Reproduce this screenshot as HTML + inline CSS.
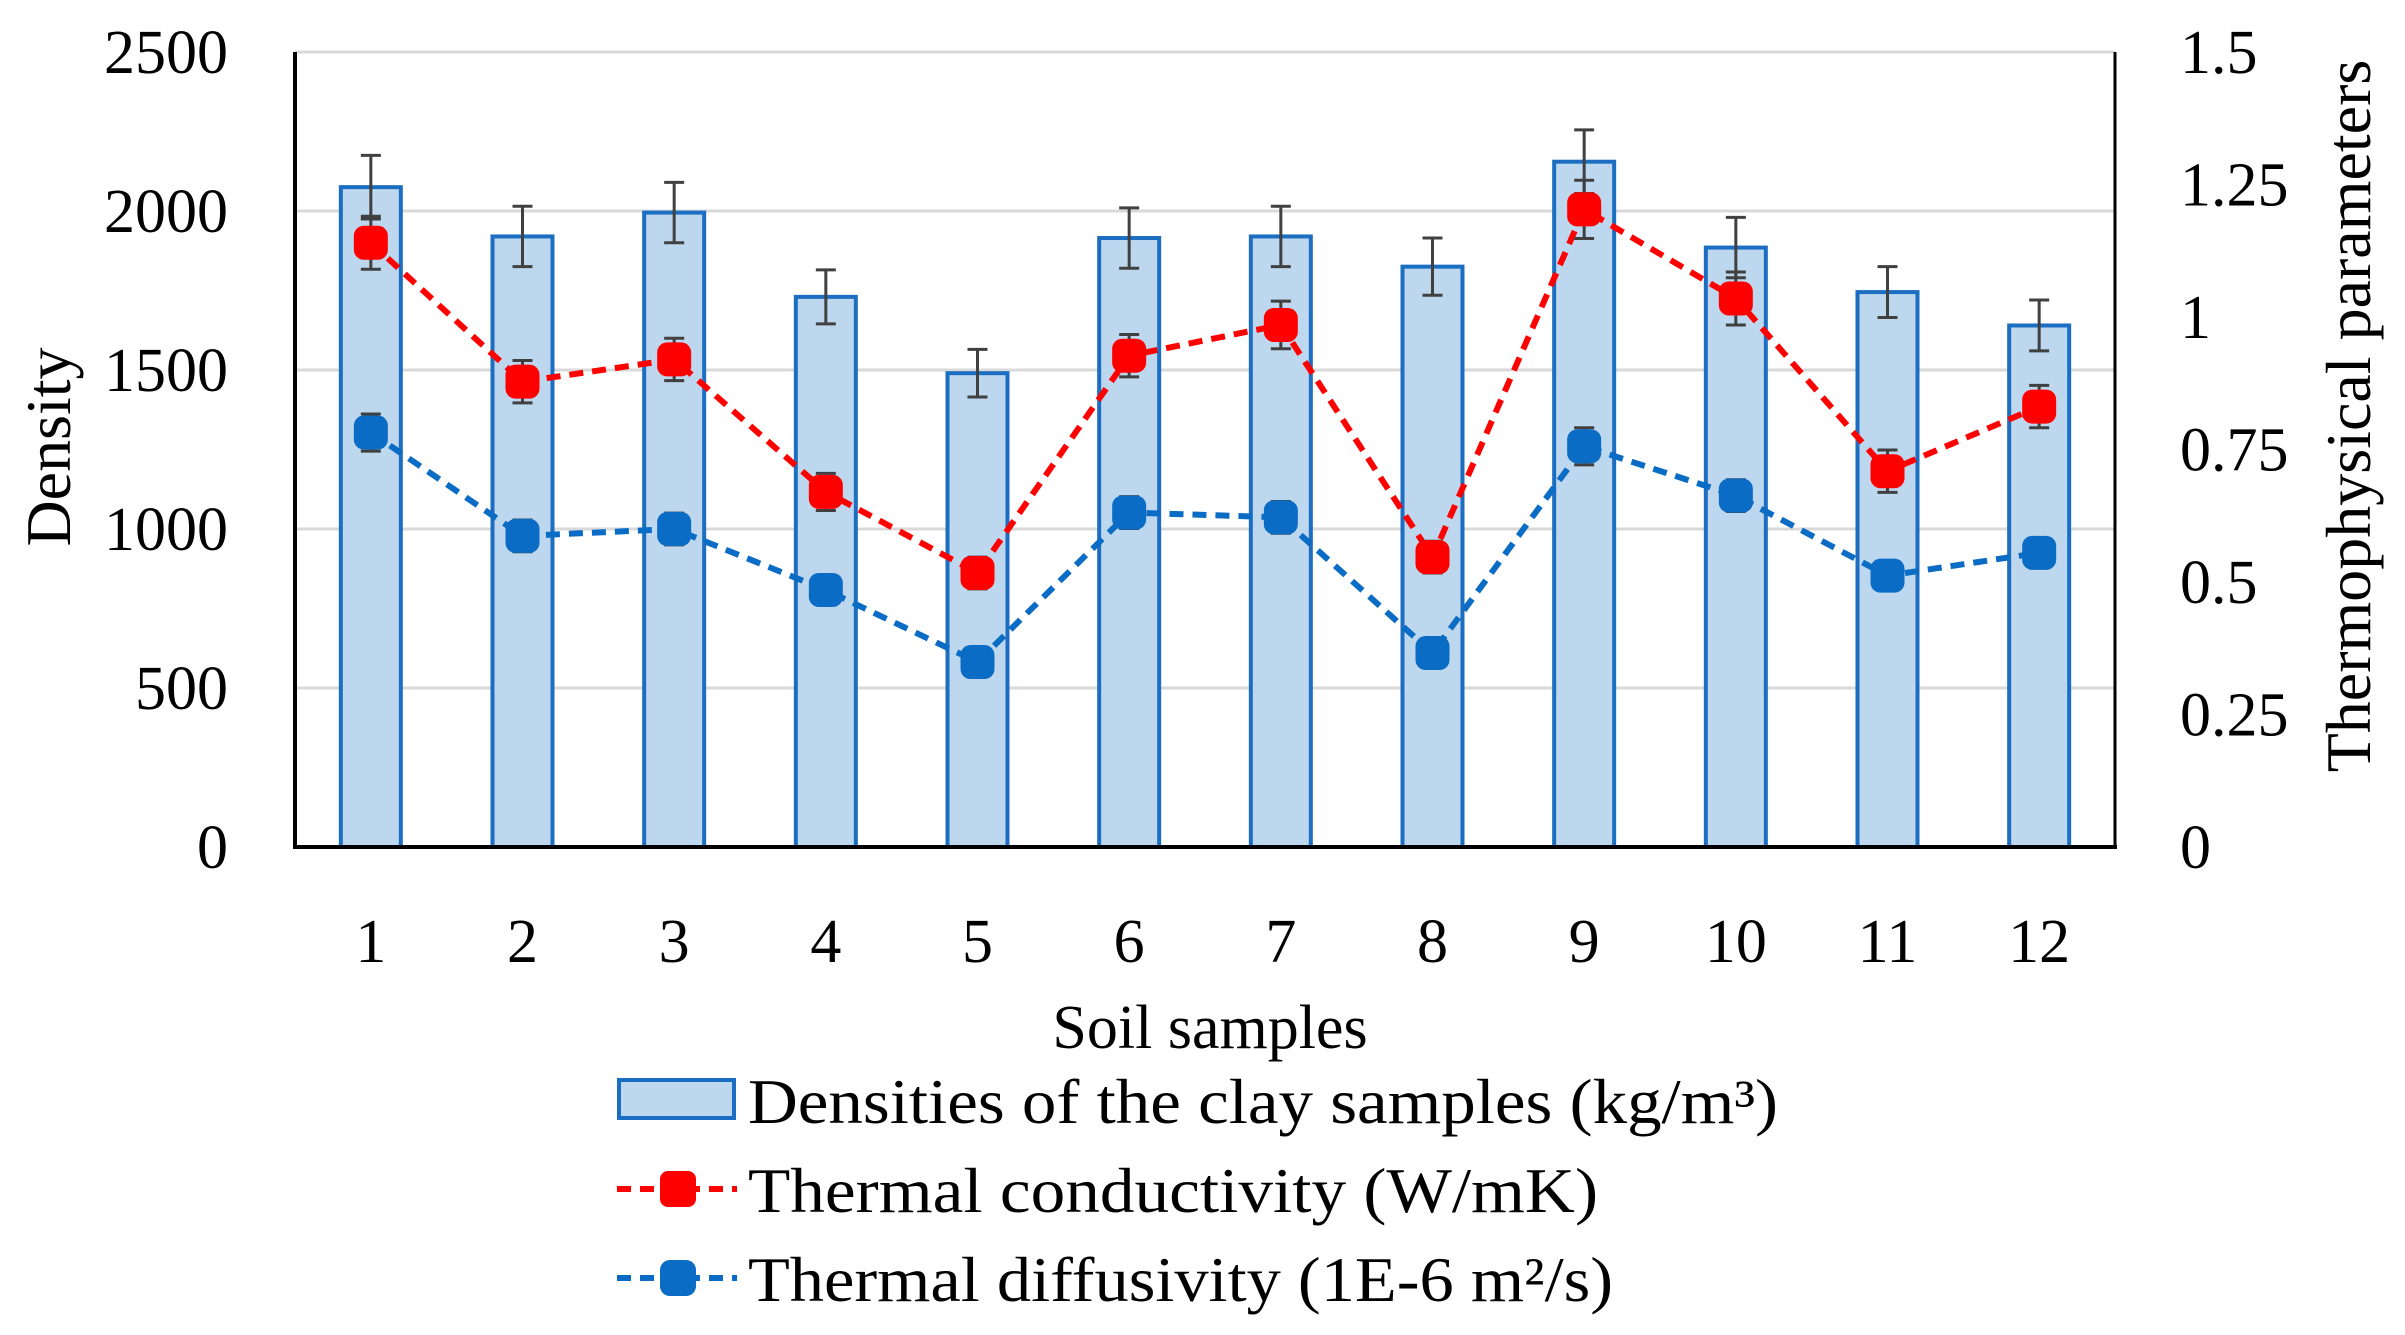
<!DOCTYPE html>
<html><head><meta charset="utf-8"><style>
html,body{margin:0;padding:0;background:#fff;}
svg{display:block;font-family:"Liberation Serif",serif;}
</style></head><body>
<svg id="chart" width="2405" height="1335" viewBox="0 0 2405 1335" xmlns="http://www.w3.org/2000/svg">
<g id="grid"></g>
<g id="bars"></g>
<g id="lines"></g>
<g id="axes"></g>
<text transform="translate(70,447) rotate(-90)" text-anchor="middle" font-size="64" fill="#000">Density</text>
<text transform="translate(2370,416) rotate(-90)" text-anchor="middle" font-size="64" fill="#000">Thermophysical parameters</text>
<text x="1210" y="1048" text-anchor="middle" font-size="62" fill="#000">Soil samples</text>
<g>
  <g>
    <rect x="619" y="1080" width="115" height="38" fill="#bdd7ee" stroke="#1b6ec2" stroke-width="4"/>
    <text x="748" y="1123" font-size="64" textLength="1030" lengthAdjust="spacingAndGlyphs">Densities of the clay samples (kg/m³)</text>
  </g>
  <g>
    <line x1="617" y1="1189" x2="737" y2="1189" stroke="#ff0000" stroke-width="6" stroke-dasharray="14,9"/>
    <rect x="660" y="1171" width="36" height="36" rx="8" fill="#ff0000"/>
    <text x="748" y="1212" font-size="64" textLength="850" lengthAdjust="spacingAndGlyphs">Thermal conductivity (W/mK)</text>
  </g>
  <g>
    <line x1="617" y1="1278" x2="737" y2="1278" stroke="#0a6cc4" stroke-width="6" stroke-dasharray="14,9"/>
    <rect x="660" y="1260" width="36" height="36" rx="10" fill="#0a6cc4"/>
    <text x="748" y="1301" font-size="64" textLength="865" lengthAdjust="spacingAndGlyphs">Thermal diffusivity (1E-6 m²/s)</text>
  </g>
</g>
</svg>
<script>
const categories = ["1","2","3","4","5","6","7","8","9","10","11","12"];
const density = [2075,1920,1995,1730,1490,1915,1920,1825,2155,1885,1745,1640];
const densityErr = [100,95,95,85,75,95,95,90,100,95,80,80];
const conductivity = [1.14,0.878,0.92,0.67,0.517,0.927,0.985,0.547,1.203,1.035,0.709,0.831];
const conductivityErr = [0.05,0.04,0.04,0.035,0.03,0.04,0.045,0.03,0.055,0.05,0.04,0.04];
const diffusivity = [0.782,0.587,0.60,0.485,0.349,0.631,0.622,0.366,0.756,0.663,0.512,0.555];
const diffusivityErr = [0.035,0.03,0.03,0.025,0.02,0.03,0.03,0.025,0.035,0.03,0.025,0.025];
const leftTicks = [0,500,1000,1500,2000,2500];
const rightTicks = ["0","0.25","0.5","0.75","1","1.25","1.5"];

const NS="http://www.w3.org/2000/svg";
const L=295,R=2115,T=52,B=847;
const step=(R-L)/categories.length;
const xC=i=>L+step*(i+0.5);
const yL=v=>B-(v/2500)*(B-T);
const yR=v=>B-(v/1.5)*(B-T);
function mk(tag,attrs,parent){const e=document.createElementNS(NS,tag);for(const k in attrs)e.setAttribute(k,attrs[k]);parent.appendChild(e);return e;}
const grid=document.getElementById('grid'),bars=document.getElementById('bars'),lines=document.getElementById('lines'),axes=document.getElementById('axes');

leftTicks.forEach(v=>{
  if(v>0){const g=mk('line',{x1:L,x2:R,y1:yL(v),y2:yL(v),stroke:'#d9d9d9','stroke-width':3},grid);
  
  }
  const t=mk('text',{x:228,y:yL(v)+21,'text-anchor':'end','font-size':62},axes);t.textContent=v;
  
  
});
rightTicks.forEach(s=>{
  const t=mk('text',{x:2180,y:yR(parseFloat(s))+21,'text-anchor':'start','font-size':62},axes);t.textContent=s;
  
  
});
mk('line',{x1:L,x2:L,y1:T,y2:B,stroke:'#000','stroke-width':4},axes);
mk('line',{x1:R,x2:R,y1:T,y2:B,stroke:'#000','stroke-width':3},axes);
mk('line',{x1:L-2,x2:R+2,y1:B,y2:B,stroke:'#000','stroke-width':4},axes);

function errBar(x,yTop,yBot,parent){
  mk('line',{x1:x,x2:x,y1:yTop,y2:yBot,stroke:'#404040','stroke-width':3},parent);
  mk('line',{x1:x-10,x2:x+10,y1:yTop,y2:yTop,stroke:'#404040','stroke-width':3},parent);
  mk('line',{x1:x-10,x2:x+10,y1:yBot,y2:yBot,stroke:'#404040','stroke-width':3},parent);
}
categories.forEach((c,i)=>{
  const x=xC(i);
  const b=mk('rect',{x:x-30,y:yL(density[i]),width:60,height:B-yL(density[i]),fill:'#bdd7ee',stroke:'#1b6ec2','stroke-width':4},bars);
  
  
  errBar(x,yL(density[i]+densityErr[i]),yL(density[i]-densityErr[i]),bars);
  const t=mk('text',{x:x,y:962,'text-anchor':'middle','font-size':62},axes);t.textContent=c;
  
  
});
function series(vals,errs,color,name){
  const pts=vals.map((v,i)=>xC(i)+','+yR(v)).join(' ');
  const pl=mk('polyline',{points:pts,fill:'none',stroke:color,'stroke-width':6,'stroke-dasharray':'14,9'},lines);
  
  
  vals.forEach((v,i)=>{
    errBar(xC(i),yR(v+errs[i]),yR(v-errs[i]),lines);
    const m=mk('rect',{x:xC(i)-17,y:yR(v)-17,width:34,height:34,rx:10,fill:color},lines);
    
    
  });
}
series(diffusivity,diffusivityErr,'#0a6cc4','diffusivity');
series(conductivity,conductivityErr,'#ff0000','conductivity');
</script>
</body></html>
